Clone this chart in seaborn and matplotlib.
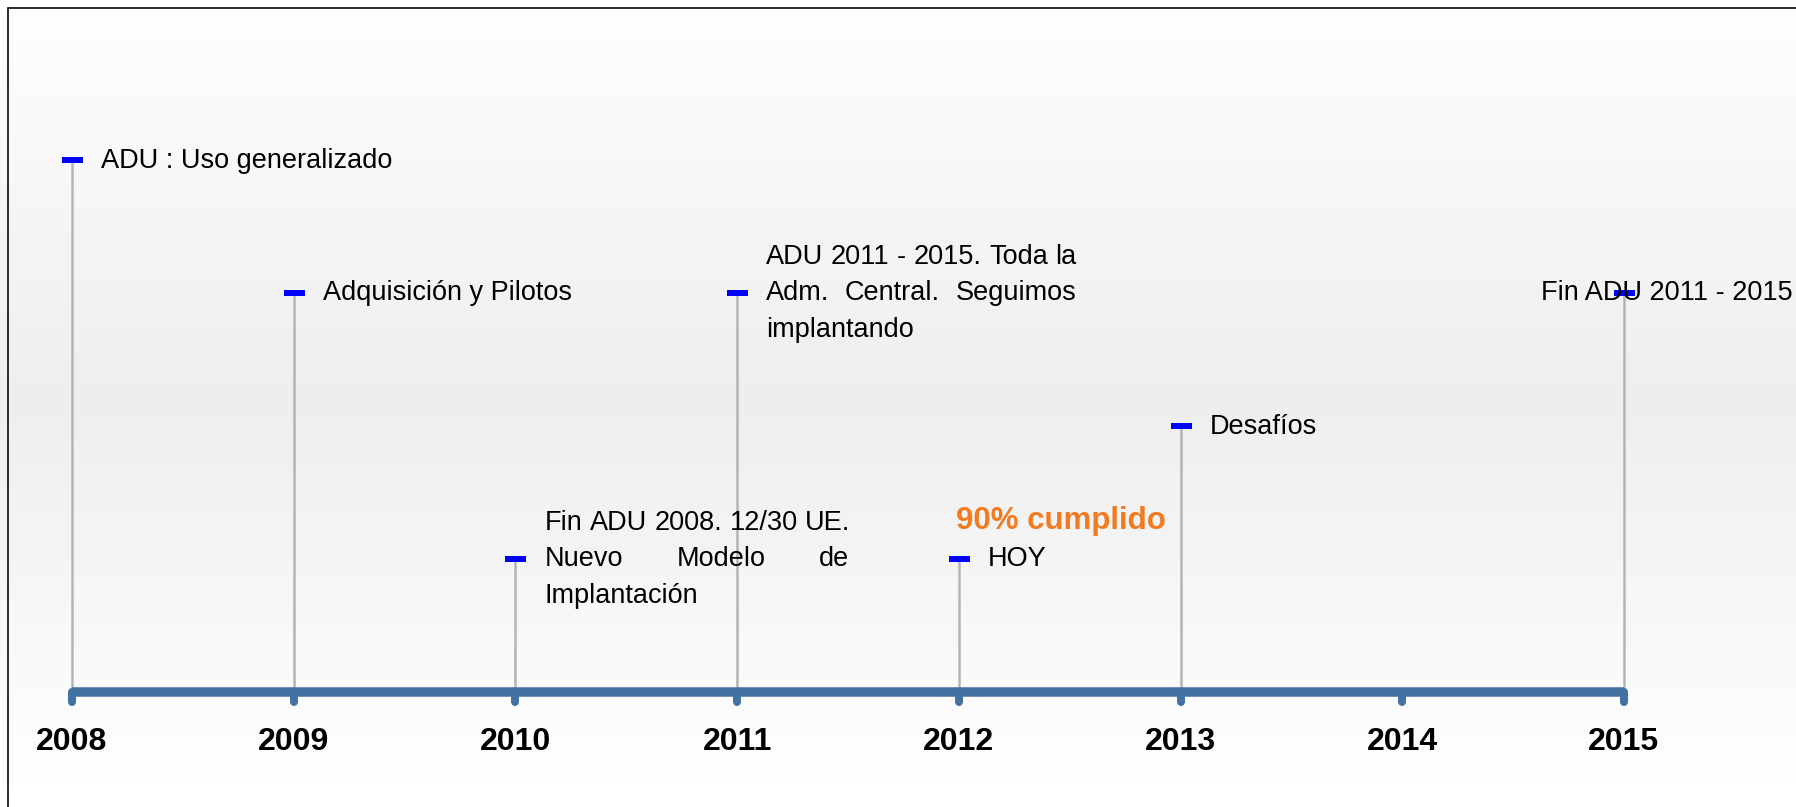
import numpy as np
import matplotlib
matplotlib.use("Agg")
import matplotlib.pyplot as plt
from matplotlib.lines import Line2D
import seaborn as sns

# ---------------- data ----------------
event_years = [2008, 2009, 2010, 2011, 2012, 2013, 2015]
event_levels = [4, 3, 1, 3, 1, 2, 3]
event_labels = [
    "ADU : Uso generalizado",
    "Adquisición y Pilotos",
    "Fin ADU 2008. 12/30 UE.\nNuevo Modelo de\nImplantación",
    "ADU 2011 - 2015. Toda la\nAdm. Central. Seguimos\nimplantando",
    "HOY",
    "Desafíos",
    "Fin ADU 2011 - 2015",
]
tick_years = [2008, 2009, 2010, 2011, 2012, 2013, 2014, 2015]
tick_labels = ["2008", "2009", "2010", "2011", "2012", "2013", "2014", "2015"]
note_label = "90% cumplido"
note_year = 2012

# ---------------- style ----------------
sns.set_theme(style="white")
plt.rcParams["font.family"] = ["Liberation Sans", "DejaVu Sans"]

W, H, DPI = 1796, 807, 100
fig = plt.figure(figsize=(W / DPI, H / DPI), dpi=DPI)
ax = fig.add_axes([0, 0, 1, 1])
ax.set_axis_off()

X0_PX, YEAR_PX = 72.0, 221.7
BASE_PX, LEVEL_PX = 691.5, 133.0
xlim = (2008 - X0_PX / YEAR_PX, 2008 + (W - X0_PX) / YEAR_PX)
ylim = ((BASE_PX - H) / LEVEL_PX, BASE_PX / LEVEL_PX)


def pt(p):
    return p * 72.0 / DPI


BAR_COLOR = "#4371A1"
STEM_COLOR = "#b4b4b4"
MARK_COLOR = "#0000FF"
NOTE_COLOR = "#F47A20"

# background gradient
rows = np.arange(H)
shade = np.where(rows < 400, 0.995 - 0.065 * rows / 400.0,
                 0.93 + 0.07 * (rows - 400) / (H - 400.0))
ax.imshow(shade[:, None], cmap="gray", vmin=0, vmax=1, aspect="auto",
          extent=(xlim[0], xlim[1], ylim[0], ylim[1]), origin="upper", zorder=0)
ax.set_xlim(*xlim)
ax.set_ylim(*ylim)

# stems
ax.vlines(event_years, 0, event_levels, color=STEM_COLOR, lw=pt(2.5), zorder=1)

# timeline bar
sns.lineplot(x=[tick_years[0], tick_years[-1]], y=[0, 0], ax=ax, color=BAR_COLOR,
             lw=pt(9.5), solid_capstyle="butt", zorder=3, legend=False)
ax.vlines(tick_years, 0, -10 / LEVEL_PX, color=BAR_COLOR, lw=pt(8),
          capstyle="round", zorder=3)

# markers
sns.scatterplot(x=event_years, y=event_levels, marker="_", s=pt(21) ** 2,
                color=MARK_COLOR, linewidth=pt(6), zorder=4, ax=ax, legend=False)

# year labels
for yr, lab in zip(tick_years, tick_labels):
    ax.text(yr, (BASE_PX - 750) / LEVEL_PX, lab, ha="center", va="baseline",
            fontsize=23, fontweight="bold", color="black", zorder=5)

# note
ax.text(note_year - 3 / YEAR_PX, (BASE_PX - 529) / LEVEL_PX, note_label,
        ha="left", va="baseline", fontsize=22.5, fontweight="bold",
        color=NOTE_COLOR, zorder=5)

# event labels (justified text blocks)
LABEL_FS = 19.5
LINE_PX = 36.5
GAP_PX = 29
BASELINE_OFF_PX = 8
renderer = fig.canvas.get_renderer()


def text_w(s):
    t = ax.text(0, 0, s, fontsize=LABEL_FS)
    w = t.get_window_extent(renderer).width / YEAR_PX
    t.remove()
    return w


space_w = text_w("a b") - text_w("ab")
for yr, lvl, label in zip(event_years, event_levels, event_labels):
    lines = label.split("\n")
    widths = [text_w(l) for l in lines]
    box_w = max(widths)
    x0 = yr + GAP_PX / YEAR_PX
    right_lim = xlim[1] - 3 / YEAR_PX
    if x0 + box_w > right_lim:
        x0 = right_lim - box_w
    n = len(lines)
    mid = (n - 1) / 2.0
    for i, line in enumerate(lines):
        yb = lvl - (BASELINE_OFF_PX + (i - mid) * LINE_PX) / LEVEL_PX
        words = line.split(" ")
        if n > 1 and i < n - 1 and len(words) > 1:
            ww = [text_w(w) for w in words]
            gap = (box_w - sum(ww)) / (len(words) - 1)
            gap = max(gap, space_w)
            x = x0
            for w, wwid in zip(words, ww):
                ax.text(x, yb, w, fontsize=LABEL_FS, ha="left", va="baseline",
                        color="black", zorder=5)
                x += wwid + gap
        else:
            ax.text(x0, yb, line, fontsize=LABEL_FS, ha="left", va="baseline",
                    color="black", zorder=5)

# frame (top and left edges)
fx = 8.0 / W
fy = 1 - 8.0 / H
fig.add_artist(Line2D([fx, fx], [0, fy], transform=fig.transFigure, color="black", lw=pt(1.6)))
fig.add_artist(Line2D([fx, 1], [fy, fy], transform=fig.transFigure, color="black", lw=pt(1.6)))

fig.savefig("out.png", dpi=DPI)
